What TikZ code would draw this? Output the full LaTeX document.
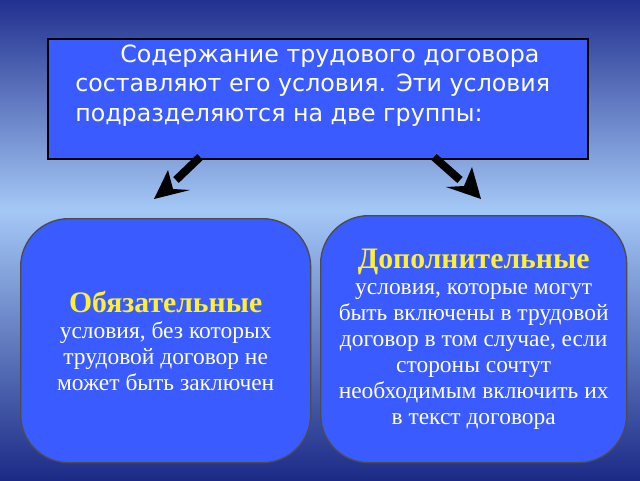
\documentclass[tikz,border=0pt]{standalone}
\usepackage{fontspec}
\setmainfont{Liberation Serif}
\newfontfamily\sansf{DejaVu Sans}
\usetikzlibrary{arrows.meta}
\definecolor{bgtop}{HTML}{22308F}
\definecolor{bgmid}{HTML}{A4C8F6}
\definecolor{bgbot}{HTML}{1C2A86}
\definecolor{boxblue}{HTML}{3A5BFF}
\definecolor{ttl}{HTML}{FFF033}
\tikzset{
 card/.style={draw=black!70, line width=1pt, fill=boxblue, rounded corners=36pt, align=center, text=white, font=\fontsize{17.6}{19.6}\selectfont, inner sep=2pt},
 shaft/.style={line width=6pt, black},
 head/.style={fill=black}
}
\begin{document}
\begin{tikzpicture}[x=0.75pt,y=-0.75pt]
\useasboundingbox (0,0) rectangle (640,480);
\shade[top color=bgtop, bottom color=bgmid] (0,0) rectangle (640,210);
\shade[top color=bgmid, bottom color=bgbot] (0,210) rectangle (640,480);
\node[draw=black, line width=1.2pt, fill=boxblue, minimum width=540*0.75pt, minimum height=120*0.75pt, anchor=north west, inner sep=0pt] (top) at (47,38) {};
\node[anchor=north west, align=left, text=white, font=\sansf\fontsize{17.8}{21.8}\selectfont, inner sep=0pt] (toptext) at (75,45) {\hspace{1.9em}Содержание трудового договора\\составляют его условия. Эти условия\\подразделяются на две группы:};
% left arrow
\coordinate (l1) at (200,157); \coordinate (l2) at (176,180);
\draw[shaft] (l1) -- (l2);
\fill[head] (154,199) -- (168,170) -- (173,189) -- (190,190) -- cycle;
% right arrow
\coordinate (r1) at (434,157); \coordinate (r2) at (460,180);
\draw[shaft] (r1) -- (r2);
\fill[head] (481,199) -- (472,167) -- (464,186) -- (446,187) -- cycle;
\node[card, minimum width=290*0.75pt, minimum height=244*0.75pt, anchor=north west] (left) at (20,218) {{\bfseries\color{ttl}\fontsize{22.3}{25}\selectfont Обязательные}\\условия, без которых\\трудовой договор не\\может быть заключен};
\node[card, minimum width=306*0.75pt, minimum height=247*0.75pt, anchor=north west] (right) at (320,215) {{\bfseries\color{ttl}\fontsize{22.3}{25}\selectfont Дополнительные}\\условия, которые могут\\быть включены в трудовой\\договор в том случае, если\\стороны сочтут\\необходимым включить их\\в текст договора};
\end{tikzpicture}
\end{document}
